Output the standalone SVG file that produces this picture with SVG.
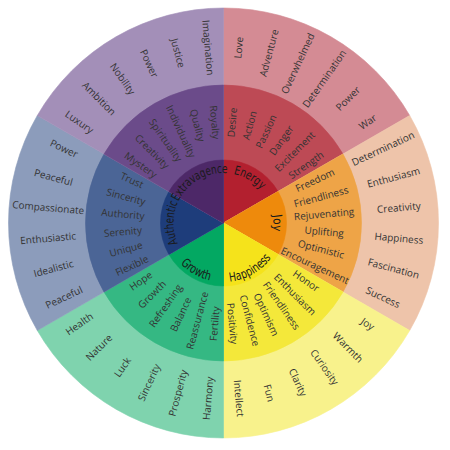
<svg xmlns="http://www.w3.org/2000/svg" width="450" height="450" viewBox="0 0 450 450">
<style>
.w{font-family:"Open Sans","Noto Sans",sans-serif;font-size:10px;fill:#333;text-anchor:middle}
.c{font-family:"Liberation Sans Narrow","DejaVu Sans Condensed","Liberation Sans",sans-serif;font-size:12.5px;fill:#1a1a1a;text-anchor:middle}
.ro{fill:#D48B94;stroke:#D48B94}.rm{fill:#BD4A55;stroke:#BD4A55}.ri{fill:#B3202F;stroke:#B3202F}
.oo{fill:#EEC4AA;stroke:#EEC4AA}.om{fill:#EEA447;stroke:#EEA447}.oi{fill:#EE8A0C;stroke:#EE8A0C}
.yo{fill:#F8F28C;stroke:#F8F28C}.ym{fill:#F4E83A;stroke:#F4E83A}.yi{fill:#F5E31B;stroke:#F5E31B}
.go{fill:#7FD3AE;stroke:#7FD3AE}.gm{fill:#35B883;stroke:#35B883}.gi{fill:#03A862;stroke:#03A862}
.bo{fill:#8C9CBB;stroke:#8C9CBB}.bm{fill:#4B6596;stroke:#4B6596}.bi{fill:#1E3D7B;stroke:#1E3D7B}
.po{fill:#A38FB8;stroke:#A38FB8}.pm{fill:#6B4B8A;stroke:#6B4B8A}.pi{fill:#4D2868;stroke:#4D2868}
path{stroke-width:0.6}
</style>
<defs>
<path id="aEnergy" d="M-12.94,-48.3 A50,50 0 0 1 48.3,-12.94"/>
<path id="aJoy" d="M35.36,-35.36 A50,50 0 0 1 35.36,35.36"/>
<path id="aExtr" d="M-48.3,-12.94 A50,50 0 0 1 12.94,-48.3"/>
<path id="aAuth" d="M-35.36,35.36 A50,50 0 0 1 -35.36,-35.36"/>
<path id="aHapp" d="M-15.27,56.99 A59,59 0 0 0 56.99,15.27"/>
<path id="aGrow" d="M-56.99,15.27 A59,59 0 0 0 15.27,56.99"/>
</defs>
<g transform="translate(223.5,223)">
<g id="energy">
<path class="ro" d="M0,0 L0,-215 A215,215 0 0 1 186.19,-107.5 Z"/>
<path class="rm" d="M0,0 L0,-138 A138,138 0 0 1 119.51,-69 Z"/>
<path class="ri" d="M0,0 L0,-63 A63,63 0 0 1 54.56,-31.5 Z"/>
<text class="c"><textPath href="#aEnergy" startOffset="50%" textLength="32" lengthAdjust="spacingAndGlyphs">Energy</textPath></text>
<text class="w" dy="0.35em" transform="rotate(5) translate(0,-101) rotate(-90)">Desire</text>
<text class="w" dy="0.35em" transform="rotate(15) translate(0,-101) rotate(-90)">Action</text>
<text class="w" dy="0.35em" transform="rotate(25) translate(0,-101) rotate(-90)">Passion</text>
<text class="w" dy="0.35em" transform="rotate(35) translate(0,-101) rotate(-90)">Danger</text>
<text class="w" dy="0.35em" transform="rotate(45) translate(0,-101) rotate(-90)">Excitement</text>
<text class="w" dy="0.35em" transform="rotate(55) translate(0,-101) rotate(-90)">Strength</text>
<text class="w" dy="0.35em" transform="rotate(5) translate(0,-176) rotate(-90)">Love</text>
<text class="w" dy="0.35em" transform="rotate(15) translate(0,-176) rotate(-90)">Adventure</text>
<text class="w" dy="0.35em" transform="rotate(25) translate(0,-176) rotate(-90)">Overwhelmed</text>
<text class="w" dy="0.35em" transform="rotate(35) translate(0,-176) rotate(-90)">Determination</text>
<text class="w" dy="0.35em" transform="rotate(45) translate(0,-176) rotate(-90)">Power</text>
<text class="w" dy="0.35em" transform="rotate(55) translate(0,-176) rotate(-90)">War</text>
</g>
<g id="joy">
<path class="oo" d="M0,0 L186.19,-107.5 A215,215 0 0 1 186.19,107.5 Z"/>
<path class="om" d="M0,0 L119.51,-69 A138,138 0 0 1 119.51,69 Z"/>
<path class="oi" d="M0,0 L54.56,-31.5 A63,63 0 0 1 54.56,31.5 Z"/>
<text class="c"><textPath href="#aJoy" startOffset="50%" textLength="16" lengthAdjust="spacingAndGlyphs">Joy</textPath></text>
<text class="w" dy="0.35em" transform="rotate(65) translate(0,-101) rotate(-90)">Freedom</text>
<text class="w" dy="0.35em" transform="rotate(75) translate(0,-101) rotate(-90)">Friendliness</text>
<text class="w" dy="0.35em" transform="rotate(85) translate(0,-101) rotate(-90)">Rejuvenating</text>
<text class="w" dy="0.35em" transform="rotate(95) translate(0,-101) rotate(-90)">Uplifting</text>
<text class="w" dy="0.35em" transform="rotate(105) translate(0,-101) rotate(-90)">Optimistic</text>
<text class="w" dy="0.35em" transform="rotate(115) translate(0,-101) rotate(-90)">Encouragement</text>
<text class="w" dy="0.35em" transform="rotate(65) translate(0,-176) rotate(-90)">Determination</text>
<text class="w" dy="0.35em" transform="rotate(75) translate(0,-176) rotate(-90)">Enthusiasm</text>
<text class="w" dy="0.35em" transform="rotate(85) translate(0,-176) rotate(-90)">Creativity</text>
<text class="w" dy="0.35em" transform="rotate(95) translate(0,-176) rotate(-90)">Happiness</text>
<text class="w" dy="0.35em" transform="rotate(105) translate(0,-176) rotate(-90)">Fascination</text>
<text class="w" dy="0.35em" transform="rotate(115) translate(0,-176) rotate(-90)">Success</text>
</g>
<g id="happiness">
<path class="yo" d="M0,0 L186.19,107.5 A215,215 0 0 1 0,215 Z"/>
<path class="ym" d="M0,0 L119.51,69 A138,138 0 0 1 0,138 Z"/>
<path class="yi" d="M0,0 L54.56,31.5 A63,63 0 0 1 0,63 Z"/>
<text class="c"><textPath href="#aHapp" startOffset="50%" textLength="49" lengthAdjust="spacingAndGlyphs">Happiness</textPath></text>
<text class="w" dy="0.35em" transform="rotate(125) translate(0,-101) rotate(-90)">Honor</text>
<text class="w" dy="0.35em" transform="rotate(135) translate(0,-101) rotate(-90)">Enthusiasm</text>
<text class="w" dy="0.35em" transform="rotate(145) translate(0,-101) rotate(-90)">Friendliness</text>
<text class="w" dy="0.35em" transform="rotate(155) translate(0,-101) rotate(-90)">Optimism</text>
<text class="w" dy="0.35em" transform="rotate(165) translate(0,-101) rotate(-90)">Confidence</text>
<text class="w" dy="0.35em" transform="rotate(175) translate(0,-101) rotate(-90)">Positivity</text>
<text class="w" dy="0.35em" transform="rotate(125) translate(0,-176) rotate(-90)">Joy</text>
<text class="w" dy="0.35em" transform="rotate(135) translate(0,-176) rotate(-90)">Warmth</text>
<text class="w" dy="0.35em" transform="rotate(145) translate(0,-176) rotate(-90)">Curiosity</text>
<text class="w" dy="0.35em" transform="rotate(155) translate(0,-176) rotate(-90)">Clarity</text>
<text class="w" dy="0.35em" transform="rotate(165) translate(0,-176) rotate(-90)">Fun</text>
<text class="w" dy="0.35em" transform="rotate(175) translate(0,-176) rotate(-90)">Intellect</text>
</g>
<g id="growth">
<path class="go" d="M0,0 L0,215 A215,215 0 0 1 -186.19,107.5 Z"/>
<path class="gm" d="M0,0 L0,138 A138,138 0 0 1 -119.51,69 Z"/>
<path class="gi" d="M0,0 L0,63 A63,63 0 0 1 -54.56,31.5 Z"/>
<text class="c"><textPath href="#aGrow" startOffset="50%" textLength="34" lengthAdjust="spacingAndGlyphs">Growth</textPath></text>
<text class="w" dy="0.35em" transform="rotate(185) translate(0,-101) rotate(90)">Fertility</text>
<text class="w" dy="0.35em" transform="rotate(195) translate(0,-101) rotate(90)">Reassurance</text>
<text class="w" dy="0.35em" transform="rotate(205) translate(0,-101) rotate(90)">Balance</text>
<text class="w" dy="0.35em" transform="rotate(215) translate(0,-101) rotate(90)">Refreshing</text>
<text class="w" dy="0.35em" transform="rotate(225) translate(0,-101) rotate(90)">Growth</text>
<text class="w" dy="0.35em" transform="rotate(235) translate(0,-101) rotate(90)">Hope</text>
<text class="w" dy="0.35em" transform="rotate(185) translate(0,-176) rotate(90)">Harmony</text>
<text class="w" dy="0.35em" transform="rotate(195) translate(0,-176) rotate(90)">Prosperity</text>
<text class="w" dy="0.35em" transform="rotate(205) translate(0,-176) rotate(90)">Sincerity</text>
<text class="w" dy="0.35em" transform="rotate(215) translate(0,-176) rotate(90)">Luck</text>
<text class="w" dy="0.35em" transform="rotate(225) translate(0,-176) rotate(90)">Nature</text>
<text class="w" dy="0.35em" transform="rotate(235) translate(0,-176) rotate(90)">Health</text>
</g>
<g id="authentic">
<path class="bo" d="M0,0 L-186.19,107.5 A215,215 0 0 1 -186.19,-107.5 Z"/>
<path class="bm" d="M0,0 L-119.51,69 A138,138 0 0 1 -119.51,-69 Z"/>
<path class="bi" d="M0,0 L-54.56,31.5 A63,63 0 0 1 -54.56,-31.5 Z"/>
<text class="c"><textPath href="#aAuth" startOffset="50%" textLength="42" lengthAdjust="spacingAndGlyphs">Authentic</textPath></text>
<text class="w" dy="0.35em" transform="rotate(245) translate(0,-101) rotate(90)">Flexible</text>
<text class="w" dy="0.35em" transform="rotate(255) translate(0,-101) rotate(90)">Unique</text>
<text class="w" dy="0.35em" transform="rotate(265) translate(0,-101) rotate(90)">Serenity</text>
<text class="w" dy="0.35em" transform="rotate(275) translate(0,-101) rotate(90)">Authority</text>
<text class="w" dy="0.35em" transform="rotate(285) translate(0,-101) rotate(90)">Sincerity</text>
<text class="w" dy="0.35em" transform="rotate(295) translate(0,-101) rotate(90)">Trust</text>
<text class="w" dy="0.35em" transform="rotate(245) translate(0,-176) rotate(90)">Peaceful</text>
<text class="w" dy="0.35em" transform="rotate(255) translate(0,-176) rotate(90)">Idealistic</text>
<text class="w" dy="0.35em" transform="rotate(265) translate(0,-176) rotate(90)">Enthusiastic</text>
<text class="w" dy="0.35em" transform="rotate(275) translate(0,-176) rotate(90)">Compassionate</text>
<text class="w" dy="0.35em" transform="rotate(285) translate(0,-176) rotate(90)">Peaceful</text>
<text class="w" dy="0.35em" transform="rotate(295) translate(0,-176) rotate(90)">Power</text>
</g>
<g id="extravagence">
<path class="po" d="M0,0 L-186.19,-107.5 A215,215 0 0 1 0,-215 Z"/>
<path class="pm" d="M0,0 L-119.51,-69 A138,138 0 0 1 0,-138 Z"/>
<path class="pi" d="M0,0 L-54.56,-31.5 A63,63 0 0 1 0,-63 Z"/>
<text class="c"><textPath href="#aExtr" startOffset="50%" textLength="60" lengthAdjust="spacingAndGlyphs">Extravagence</textPath></text>
<text class="w" dy="0.35em" transform="rotate(305) translate(0,-101) rotate(90)">Mystery</text>
<text class="w" dy="0.35em" transform="rotate(315) translate(0,-101) rotate(90)">Creativity</text>
<text class="w" dy="0.35em" transform="rotate(325) translate(0,-101) rotate(90)">Spirituality</text>
<text class="w" dy="0.35em" transform="rotate(335) translate(0,-101) rotate(90)">Individuality</text>
<text class="w" dy="0.35em" transform="rotate(345) translate(0,-101) rotate(90)">Quality</text>
<text class="w" dy="0.35em" transform="rotate(355) translate(0,-101) rotate(90)">Royalty</text>
<text class="w" dy="0.35em" transform="rotate(305) translate(0,-176) rotate(90)">Luxury</text>
<text class="w" dy="0.35em" transform="rotate(315) translate(0,-176) rotate(90)">Ambition</text>
<text class="w" dy="0.35em" transform="rotate(325) translate(0,-176) rotate(90)">Nobility</text>
<text class="w" dy="0.35em" transform="rotate(335) translate(0,-176) rotate(90)">Power</text>
<text class="w" dy="0.35em" transform="rotate(345) translate(0,-176) rotate(90)">Justice</text>
<text class="w" dy="0.35em" transform="rotate(355) translate(0,-176) rotate(90)">Imagination</text>
</g>
</g>
</svg>
